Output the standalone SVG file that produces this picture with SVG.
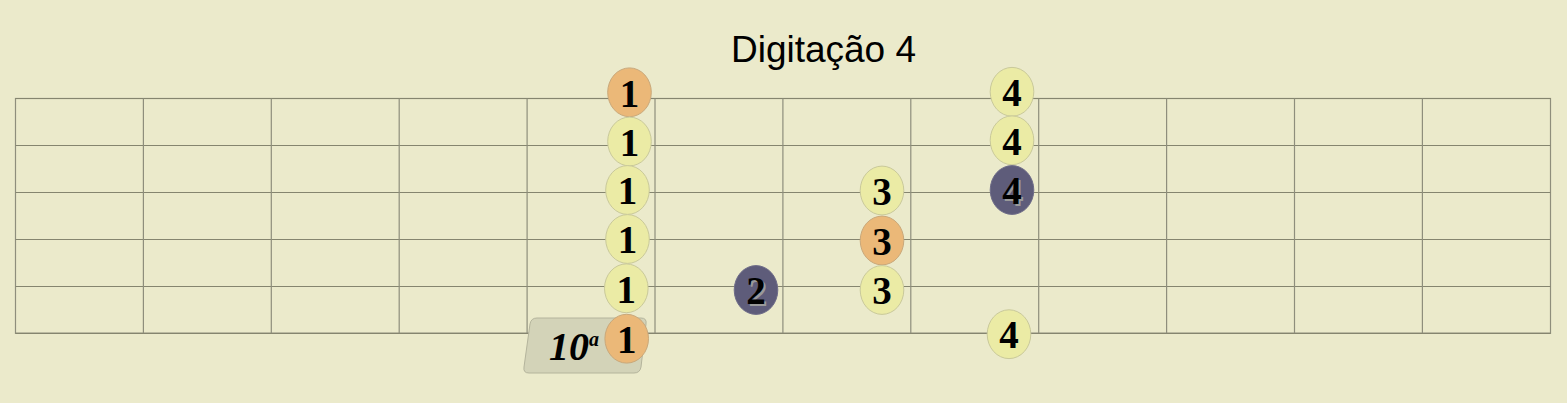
<svg xmlns="http://www.w3.org/2000/svg" width="1567" height="403" viewBox="0 0 1567 403">
<style>
.h{stroke:#85856f;stroke-width:1.2}
.v{stroke:#8e8e7c;stroke-width:1.2}
.y{fill:#ebeba5;stroke:#c9c99a;stroke-width:1}
.o{fill:#ebb878;stroke:#c9a87a;stroke-width:1}
.d{fill:#5e5c7a;stroke:#6e6c88;stroke-width:1}
.n{font-family:"Liberation Serif","Times New Roman",serif;font-weight:bold;font-size:39px;text-anchor:middle;fill:#000}
.s{fill:#9a9a9a}
</style>
<rect width="1567" height="403" fill="#ebeacb"/>
<text x="823.5" y="61.5" font-family="Liberation Sans, Arial, sans-serif" font-size="37" text-anchor="middle" fill="#000">Digitação 4</text>
<g id="grid">
<rect x="15.5" y="98.5" width="1535" height="234.8" fill="none" class="v"/>
<line class="h" x1="15.5" y1="98.5" x2="1550.5" y2="98.5"/>
<line class="h" x1="15.5" y1="145.5" x2="1550.5" y2="145.5"/>
<line class="h" x1="15.5" y1="192.5" x2="1550.5" y2="192.5"/>
<line class="h" x1="15.5" y1="239.5" x2="1550.5" y2="239.5"/>
<line class="h" x1="15.5" y1="286.5" x2="1550.5" y2="286.5"/>
<line class="h" x1="15.5" y1="333.3" x2="1550.5" y2="333.3"/>
<line class="v" x1="143.4" y1="98.5" x2="143.4" y2="333.3"/>
<line class="v" x1="271.3" y1="98.5" x2="271.3" y2="333.3"/>
<line class="v" x1="399.2" y1="98.5" x2="399.2" y2="333.3"/>
<line class="v" x1="527.1" y1="98.5" x2="527.1" y2="333.3"/>
<line class="v" x1="655" y1="98.5" x2="655" y2="333.3"/>
<line class="v" x1="782.9" y1="98.5" x2="782.9" y2="333.3"/>
<line class="v" x1="910.8" y1="98.5" x2="910.8" y2="333.3"/>
<line class="v" x1="1038.7" y1="98.5" x2="1038.7" y2="333.3"/>
<line class="v" x1="1166.6" y1="98.5" x2="1166.6" y2="333.3"/>
<line class="v" x1="1294.5" y1="98.5" x2="1294.5" y2="333.3"/>
<line class="v" x1="1422.4" y1="98.5" x2="1422.4" y2="333.3"/>
</g>
<g id="fret-label">
<path d="M537,318 L641,318 Q647,318 646,324 L641,367 Q640,373 634,373 L529,373 Q523,373 524,367 L530,324 Q531,318 537,318 Z" fill="#d3d3b8" stroke="#b4b49c" stroke-width="1"/>
<text x="549" y="360" font-family="Liberation Serif, serif" font-weight="bold" font-style="italic" font-size="40" fill="#000">10<tspan font-size="20" dy="-14">a</tspan></text>
</g>
<g id="notes">
<g id="n1a"><ellipse class="o" cx="629.5" cy="92.3" rx="21.8" ry="24.4"/><text class="n" x="629.5" y="106.5">1</text></g>
<g id="n1b"><ellipse class="y" cx="629.5" cy="141.5" rx="21.8" ry="24.4"/><text class="n" x="629.5" y="155.7">1</text></g>
<g id="n1c"><ellipse class="y" cx="627.5" cy="190" rx="21.8" ry="24.4"/><text class="n" x="627.5" y="204.2">1</text></g>
<g id="n1d"><ellipse class="y" cx="627.5" cy="239" rx="21.8" ry="24.4"/><text class="n" x="627.5" y="253.2">1</text></g>
<g id="n1e"><ellipse class="y" cx="626.3" cy="288.3" rx="21.8" ry="24.4"/><text class="n" x="626.3" y="302.5">1</text></g>
<g id="n1f"><ellipse class="o" cx="626.7" cy="338.7" rx="21.8" ry="24.4"/><text class="n" x="626.7" y="352.9">1</text></g>
<g id="n2"><ellipse class="d" cx="756" cy="290" rx="21.8" ry="24.4"/><text class="n s" x="758" y="306.2">2</text><text class="n" x="756" y="304.2">2</text></g>
<g id="n3a"><ellipse class="y" cx="882" cy="190.5" rx="21.8" ry="24.4"/><text class="n" x="882" y="204.7">3</text></g>
<g id="n3b"><ellipse class="o" cx="882" cy="240.5" rx="21.8" ry="24.4"/><text class="n" x="882" y="254.7">3</text></g>
<g id="n3c"><ellipse class="y" cx="882" cy="290" rx="21.8" ry="24.4"/><text class="n" x="882" y="304.2">3</text></g>
<g id="n4a"><ellipse class="y" cx="1012" cy="91.8" rx="21.8" ry="24.4"/><text class="n" x="1012" y="106">4</text></g>
<g id="n4b"><ellipse class="y" cx="1012" cy="140.3" rx="21.8" ry="24.4"/><text class="n" x="1012" y="154.5">4</text></g>
<g id="n4c"><ellipse class="d" cx="1012" cy="190" rx="21.8" ry="24.4"/><text class="n s" x="1014" y="206.2">4</text><text class="n" x="1012" y="204.2">4</text></g>
<g id="n4d"><ellipse class="y" cx="1009" cy="334.2" rx="21.8" ry="24.4"/><text class="n" x="1009" y="348.4">4</text></g>
</g>
</svg>
